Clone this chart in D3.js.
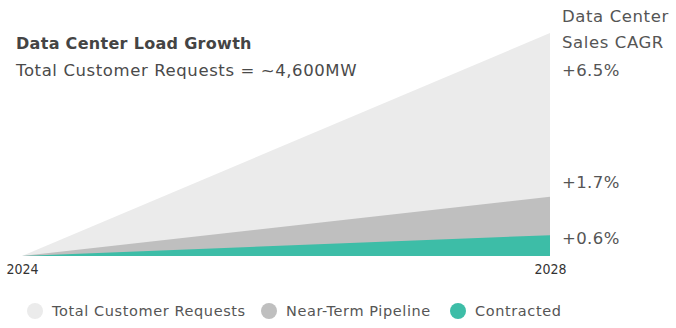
<!DOCTYPE html>
<html>
  <head>
    <meta charset="utf-8">
    <title>Data Center Load Growth</title>
    <style>
      body { margin: 0; background: #fff; }
      text { font-family: "DejaVu Sans", "Open Sans", sans-serif; }
    </style>
  </head>
  <body>
    <div id="chart"></div>
    <script src="https://d3js.org/d3.v7.min.js"></script>
    <script>
    // values (MW)
    var years = [2024, 2028];
    var totalRequests = [0, 4600];
    var nearTerm = [0, 1220];
    var contracted = [0, 430];
    var seriesNames = ["Total Customer Requests", "Near-Term Pipeline", "Contracted"];
    var seriesColors = ["#ebebeb", "#bfbfbf", "#3dbda7"];
    var cagrLabels = ["+6.5%", "+1.7%", "+0.6%"];

    var w = 676, h = 328;
    var svg = d3.select("#chart").append("svg")
      .attr("width", w)
      .attr("height", h);

    var x = d3.scaleLinear().domain([2024, 2028]).range([22, 550]);
    var y = d3.scaleLinear().domain([0, 4600]).range([256, 33]);

    var series = [totalRequests, nearTerm, contracted];

    var area = d3.area()
      .x(function(d, i) { return x(years[i]); })
      .y0(y(0))
      .y1(function(d) { return y(d); });

    svg.selectAll("path.area")
      .data(series)
      .enter()
      .append("path")
      .attr("class", "area")
      .attr("d", area)
      .attr("fill", function(d, i) { return seriesColors[i]; });

    // year labels
    var xAxis = d3.axisBottom(x).tickValues(years).tickFormat(d3.format("d")).tickSize(0);
    var gx = svg.append("g")
      .attr("transform", "translate(0," + 258 + ")")
      .call(xAxis);
    gx.select(".domain").remove();
    gx.selectAll("text")
      .attr("dy", "0.9em")
      .style("font-family", "'Liberation Sans Narrow', 'DejaVu Sans Condensed', sans-serif")
      .style("font-size", "14px")
      .attr("fill", "#333");

    // titles
    svg.append("text")
      .attr("x", 16).attr("y", 49)
      .attr("font-size", 16)
      .attr("font-weight", "bold")
      .attr("letter-spacing", 0.3)
      .attr("fill", "#444")
      .text("Data Center Load Growth");
    svg.append("text")
      .attr("x", 16).attr("y", 76)
      .attr("font-size", 16.5)
      .attr("letter-spacing", 0.6)
      .attr("fill", "#4a4a4a")
      .text("Total Customer Requests = ~4,600MW");

    // right side CAGR labels
    svg.append("text").attr("x", 562).attr("y", 22)
      .attr("font-size", 16.5).attr("letter-spacing", 0.6)
      .attr("fill", "#555").text("Data Center");
    svg.append("text").attr("x", 562).attr("y", 48)
      .attr("font-size", 16.5).attr("letter-spacing", 0.6)
      .attr("fill", "#555").text("Sales CAGR");

    var labelY = [76, 188, 244];
    svg.selectAll("text.cagr")
      .data(cagrLabels)
      .enter()
      .append("text")
      .attr("class", "cagr")
      .attr("x", 562)
      .attr("y", function(d, i) { return labelY[i]; })
      .attr("font-size", 16.5)
      .attr("letter-spacing", 0.4)
      .attr("fill", "#555")
      .text(function(d) { return d; });

    // legend
    var legendX = [35, 269, 458];
    var lg = svg.selectAll("g.legend")
      .data(seriesNames)
      .enter()
      .append("g")
      .attr("class", "legend")
      .attr("transform", function(d, i) { return "translate(" + legendX[i] + ",311)"; });
    lg.append("circle")
      .attr("r", 8)
      .attr("fill", function(d, i) { return seriesColors[i]; });
    lg.append("text")
      .attr("x", 17)
      .attr("y", 5)
      .attr("font-size", 14.5)
      .attr("letter-spacing", 0.6)
      .attr("fill", "#555")
      .text(function(d) { return d; });
    </script>
  </body>
</html>
